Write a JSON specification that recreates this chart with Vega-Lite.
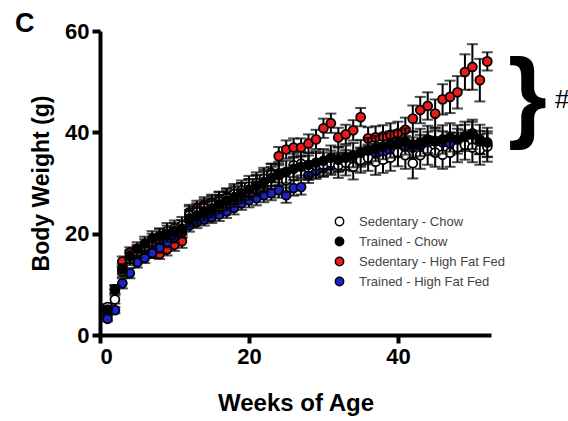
{
"$schema": "https://vega.github.io/schema/vega-lite/v6.json",
"width": 391, "height": 304,
"autosize": "none",
"padding": {"left": 100, "top": 31, "right": 77, "bottom": 86},
"background": "white",
"datasets": {
"red": [
{"w":1,"m":4.5,"s":0.5},{"w":2,"m":9.0,"s":0.8},{"w":3,"m":14.5,"s":1},{"w":4,"m":16.3,"s":1},{"w":5,"m":16.6,"s":1},{"w":6,"m":16.8,"s":1},{"w":7,"m":16.2,"s":1},{"w":8,"m":16.0,"s":1},{"w":9,"m":16.9,"s":1.2},{"w":10,"m":17.8,"s":1.2},{"w":11,"m":18.5,"s":1.3},{"w":12,"m":24.2,"s":1.5},{"w":13,"m":25.0,"s":1.5},{"w":14,"m":25.7,"s":1.5},{"w":15,"m":26.2,"s":1.5},{"w":16,"m":26.8,"s":1.5},{"w":17,"m":27.3,"s":1.6},{"w":18,"m":27.8,"s":1.6},{"w":19,"m":28.4,"s":1.6},{"w":20,"m":29.1,"s":1.7},{"w":21,"m":29.8,"s":1.7},{"w":22,"m":30.8,"s":1.8},{"w":23,"m":32.0,"s":1.8},{"w":24,"m":35.3,"s":1.8},{"w":25,"m":36.6,"s":1.8},{"w":26,"m":37.0,"s":1.8},{"w":27,"m":37.0,"s":1.8},{"w":28,"m":37.8,"s":1.8},{"w":29,"m":38.6,"s":1.9},{"w":30,"m":40.8,"s":1.9},{"w":31,"m":41.8,"s":1.9},{"w":32,"m":39.0,"s":1.9},{"w":33,"m":39.6,"s":1.9},{"w":34,"m":40.4,"s":2.0},{"w":35,"m":43.0,"s":1.8},{"w":36,"m":38.8,"s":2.2},{"w":37,"m":39.0,"s":2.2},{"w":38,"m":39.2,"s":2.2},{"w":39,"m":39.5,"s":2.3},{"w":40,"m":39.8,"s":2.3},{"w":41,"m":40.5,"s":2.4},{"w":42,"m":42.7,"s":2.6},{"w":43,"m":44.4,"s":2.6},{"w":44,"m":45.2,"s":2.7},{"w":45,"m":43.7,"s":2.8},{"w":46,"m":46.5,"s":3.0},{"w":47,"m":47.0,"s":3.2},{"w":48,"m":47.9,"s":3.2},{"w":49,"m":51.9,"s":3.5},{"w":50,"m":52.9,"s":4.5},{"w":51,"m":50.3,"s":4.2},{"w":52,"m":54.0,"s":1.8}
],
"blue": [
{"w":1,"m":3.2,"s":0.5},{"w":2,"m":4.9,"s":0.6},{"w":3,"m":10.2,"s":1},{"w":4,"m":12.2,"s":1},{"w":5,"m":14.3,"s":1},{"w":6,"m":15.2,"s":1},{"w":7,"m":16.2,"s":1},{"w":8,"m":17.2,"s":1},{"w":9,"m":18.3,"s":1},{"w":10,"m":19.3,"s":1.1},{"w":11,"m":20.3,"s":1.1},{"w":12,"m":21.6,"s":1.2},{"w":13,"m":22.3,"s":1.2},{"w":14,"m":22.8,"s":1.2},{"w":15,"m":23.3,"s":1.2},{"w":16,"m":23.8,"s":1.3},{"w":17,"m":24.4,"s":1.3},{"w":18,"m":25.1,"s":1.3},{"w":19,"m":26.0,"s":1.3},{"w":20,"m":26.6,"s":1.4},{"w":21,"m":27.0,"s":1.4},{"w":22,"m":27.6,"s":1.4},{"w":23,"m":28.0,"s":1.4},{"w":24,"m":28.6,"s":1.5},{"w":25,"m":27.6,"s":1.5},{"w":26,"m":29.0,"s":1.5},{"w":27,"m":29.2,"s":1.5},{"w":28,"m":31.6,"s":1.6},{"w":29,"m":32.4,"s":1.6},{"w":30,"m":33.0,"s":1.6},{"w":31,"m":33.5,"s":1.6},{"w":32,"m":34.0,"s":1.7},{"w":33,"m":34.3,"s":1.7},{"w":34,"m":34.0,"s":1.7},{"w":35,"m":35.0,"s":1.8},{"w":36,"m":35.5,"s":1.8},{"w":37,"m":36.0,"s":1.8},{"w":38,"m":36.0,"s":1.9},{"w":39,"m":36.5,"s":1.9},{"w":40,"m":37.0,"s":1.9},{"w":41,"m":37.3,"s":2.0},{"w":42,"m":37.0,"s":2.0},{"w":43,"m":37.5,"s":2.0},{"w":44,"m":38.0,"s":2.1},{"w":45,"m":38.3,"s":2.1},{"w":46,"m":38.0,"s":2.2},{"w":47,"m":37.8,"s":2.2},{"w":48,"m":38.5,"s":2.2},{"w":49,"m":39.2,"s":2.3},{"w":50,"m":39.8,"s":2.3},{"w":51,"m":38.0,"s":2.3},{"w":52,"m":37.5,"s":2.3}
],
"white": [
{"w":1,"m":5.5,"s":0.6},{"w":2,"m":7.0,"s":0.8},{"w":3,"m":12.5,"s":1},{"w":4,"m":15.0,"s":1.2},{"w":5,"m":16.5,"s":1.3},{"w":6,"m":17.5,"s":1.4},{"w":7,"m":18.5,"s":1.5},{"w":8,"m":19.5,"s":1.5},{"w":9,"m":20.5,"s":1.6},{"w":10,"m":21.0,"s":1.6},{"w":11,"m":21.6,"s":1.7},{"w":12,"m":23.6,"s":1.8},{"w":13,"m":24.2,"s":1.8},{"w":14,"m":25.0,"s":1.8},{"w":15,"m":25.6,"s":1.9},{"w":16,"m":26.3,"s":1.9},{"w":17,"m":27.0,"s":1.9},{"w":18,"m":27.8,"s":2.0},{"w":19,"m":28.5,"s":2.0},{"w":20,"m":29.3,"s":2.1},{"w":21,"m":30.0,"s":2.1},{"w":22,"m":30.8,"s":2.2},{"w":23,"m":31.6,"s":2.2},{"w":24,"m":31.9,"s":2.3},{"w":25,"m":30.5,"s":2.3},{"w":26,"m":33.5,"s":2.3},{"w":27,"m":33.8,"s":2.3},{"w":28,"m":33.0,"s":2.4},{"w":29,"m":33.5,"s":2.4},{"w":30,"m":33.6,"s":2.4},{"w":31,"m":34.0,"s":2.4},{"w":32,"m":33.5,"s":2.5},{"w":33,"m":34.0,"s":2.5},{"w":34,"m":33.2,"s":2.5},{"w":35,"m":34.5,"s":2.5},{"w":36,"m":35.0,"s":2.6},{"w":37,"m":34.2,"s":2.6},{"w":38,"m":34.6,"s":2.6},{"w":39,"m":35.0,"s":2.6},{"w":40,"m":36.0,"s":2.7},{"w":41,"m":35.5,"s":2.7},{"w":42,"m":33.9,"s":3.0},{"w":43,"m":35.5,"s":2.7},{"w":44,"m":36.4,"s":2.8},{"w":45,"m":36.0,"s":2.8},{"w":46,"m":35.6,"s":2.8},{"w":47,"m":36.0,"s":2.8},{"w":48,"m":37.0,"s":2.9},{"w":49,"m":37.5,"s":2.9},{"w":50,"m":37.0,"s":2.9},{"w":51,"m":36.6,"s":3.0},{"w":52,"m":37.2,"s":3.0}
],
"black": [
{"w":1,"m":5.0,"s":0.6},{"w":2,"m":9.0,"s":0.8},{"w":3,"m":13.0,"s":1},{"w":4,"m":15.5,"s":1.2},{"w":5,"m":17.0,"s":1.3},{"w":6,"m":18.0,"s":1.4},{"w":7,"m":19.0,"s":1.5},{"w":8,"m":19.5,"s":1.5},{"w":9,"m":20.0,"s":1.6},{"w":10,"m":20.5,"s":1.6},{"w":11,"m":21.0,"s":1.7},{"w":12,"m":23.0,"s":1.7},{"w":13,"m":23.6,"s":1.7},{"w":14,"m":24.4,"s":1.8},{"w":15,"m":25.0,"s":1.8},{"w":16,"m":25.8,"s":1.8},{"w":17,"m":26.5,"s":1.9},{"w":18,"m":27.2,"s":1.9},{"w":19,"m":28.0,"s":2.0},{"w":20,"m":28.7,"s":2.0},{"w":21,"m":29.5,"s":2.1},{"w":22,"m":30.2,"s":2.1},{"w":23,"m":31.0,"s":2.2},{"w":24,"m":31.6,"s":2.2},{"w":25,"m":32.2,"s":2.2},{"w":26,"m":32.8,"s":2.2},{"w":27,"m":33.2,"s":2.2},{"w":28,"m":33.6,"s":2.3},{"w":29,"m":34.0,"s":2.3},{"w":30,"m":34.4,"s":2.3},{"w":31,"m":35.0,"s":2.4},{"w":32,"m":34.6,"s":2.4},{"w":33,"m":35.0,"s":2.4},{"w":34,"m":35.5,"s":2.4},{"w":35,"m":36.0,"s":2.5},{"w":36,"m":36.4,"s":2.5},{"w":37,"m":36.8,"s":2.5},{"w":38,"m":37.2,"s":2.5},{"w":39,"m":37.6,"s":2.6},{"w":40,"m":37.8,"s":2.6},{"w":41,"m":38.2,"s":2.6},{"w":42,"m":37.6,"s":2.6},{"w":43,"m":38.0,"s":2.7},{"w":44,"m":38.6,"s":2.7},{"w":45,"m":38.2,"s":2.7},{"w":46,"m":38.6,"s":2.8},{"w":47,"m":39.0,"s":2.8},{"w":48,"m":38.6,"s":2.8},{"w":49,"m":39.2,"s":2.9},{"w":50,"m":39.6,"s":2.9},{"w":51,"m":38.6,"s":2.9},{"w":52,"m":38.0,"s":2.9}
],
"notes": [{"w":57.4,"m":46.6,"t":"}"},{"w":61.1,"m":46.4,"t":"#"},{"w":-11.4,"m":59.8,"t":"C"}]
},
"encoding": {
"x": {"field": "w", "type": "quantitative", "scale": {"domain": [0, 52.5], "nice": false, "zero": false}, "axis": {"values": [0, 20, 40], "title": "Weeks of Age", "titleFontSize": 24, "titlePadding": 24}},
"y": {"field": "m", "type": "quantitative", "scale": {"domain": [0, 60], "nice": false}, "axis": {"values": [0, 20, 40, 60], "title": "Body Weight (g)", "titleFontSize": 23, "titlePadding": 11}}
},
"layer": [
{"data": {"name": "red"}, "mark": {"type": "errorbar", "ticks": {"size": 11, "thickness": 2, "color": "black"}, "rule": {"color": "black", "strokeWidth": 2}}, "encoding": {"yError": {"field": "s"}}},
{"data": {"name": "red"}, "mark": {"type": "point", "filled": true, "stroke": "black", "strokeWidth": 1.8, "size": 80, "opacity": 1},
 "encoding": {"fill": {"datum": "Sedentary - High Fat Fed", "type": "nominal",
   "scale": {"domain": ["Sedentary - Chow", "Trained - Chow", "Sedentary - High Fat Fed", "Trained - High Fat Fed"], "range": ["white", "black", "#ee1a1a", "#1c24d0"]},
   "legend": {"title": null, "orient": "none", "legendX": 233, "legendY": 184}}}},
{"data": {"name": "blue"}, "mark": {"type": "errorbar", "ticks": {"size": 11, "thickness": 2, "color": "black"}, "rule": {"color": "black", "strokeWidth": 2}}, "encoding": {"yError": {"field": "s"}}},
{"data": {"name": "blue"}, "mark": {"type": "point", "filled": true, "stroke": "black", "strokeWidth": 1.8, "size": 80, "opacity": 1}, "encoding": {"fill": {"datum": "Trained - High Fat Fed", "type": "nominal"}}},
{"data": {"name": "white"}, "mark": {"type": "errorbar", "ticks": {"size": 11, "thickness": 2, "color": "black"}, "rule": {"color": "black", "strokeWidth": 2}}, "encoding": {"yError": {"field": "s"}}},
{"data": {"name": "white"}, "mark": {"type": "point", "filled": true, "stroke": "black", "strokeWidth": 1.8, "size": 80, "opacity": 1}, "encoding": {"fill": {"datum": "Sedentary - Chow", "type": "nominal"}}},
{"data": {"name": "black"}, "mark": {"type": "errorbar", "ticks": {"size": 11, "thickness": 2, "color": "black"}, "rule": {"color": "black", "strokeWidth": 2}}, "encoding": {"yError": {"field": "s"}}},
{"data": {"name": "black"}, "mark": {"type": "point", "filled": true, "stroke": "black", "strokeWidth": 1.8, "size": 80, "opacity": 1}, "encoding": {"fill": {"datum": "Trained - Chow", "type": "nominal"}}},
{"data": {"name": "notes"}, "transform": [{"filter": "datum.t == '}'"}], "mark": {"type": "text", "font": "Liberation Sans", "fontSize": 100, "fontWeight": "bold", "baseline": "middle", "align": "center", "color": "black"}, "encoding": {"text": {"field": "t"}}},
{"data": {"name": "notes"}, "transform": [{"filter": "datum.t == '#'"}], "mark": {"type": "text", "font": "Liberation Sans", "fontSize": 26, "baseline": "middle", "align": "left", "color": "black"}, "encoding": {"text": {"field": "t"}}},
{"data": {"name": "notes"}, "transform": [{"filter": "datum.t == 'C'"}], "mark": {"type": "text", "font": "Liberation Sans", "fontSize": 27, "fontWeight": "bold", "baseline": "alphabetic", "align": "left", "color": "black"}, "encoding": {"text": {"field": "t"}}}
],
"config": {
"view": {"stroke": null},
"axis": {"grid": false, "domainColor": "black", "domainWidth": 4, "tickColor": "black", "tickWidth": 4, "tickSize": 8, "labelFont": "Liberation Sans", "labelFontWeight": "bold", "labelFontSize": 22, "labelColor": "black", "labelPadding": 3, "titleFont": "Liberation Sans", "titleFontWeight": "bold", "titleColor": "black"},
"legend": {"labelFont": "Liberation Sans", "labelFontSize": 13, "labelColor": "#444444", "symbolType": "circle", "symbolSize": 70, "symbolStrokeColor": "black", "symbolStrokeWidth": 1.5, "rowPadding": 5, "labelOffset": 13, "padding": 0}
}
}
